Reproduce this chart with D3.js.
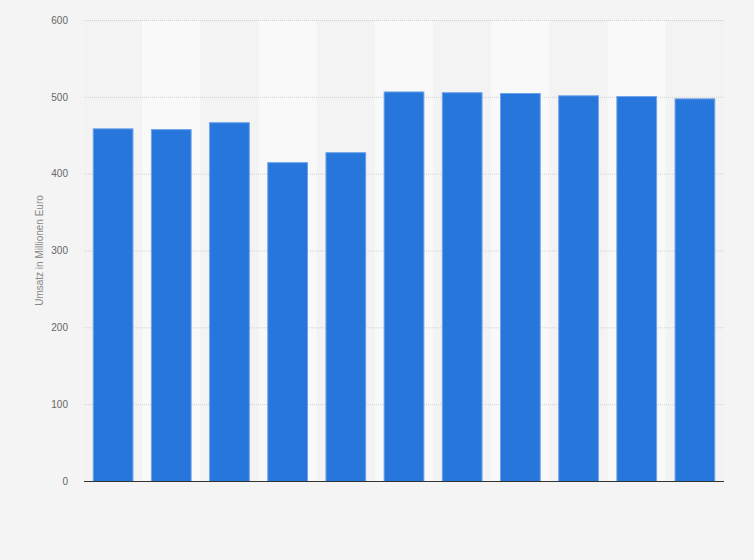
<!DOCTYPE html>
<html>
<head>
<meta charset="utf-8">
<script src="https://cdn.jsdelivr.net/npm/d3@7"></script>
<style>
  body { margin: 0; background: #f4f4f4; }
  svg { display: block; font-family: "Liberation Sans", Arial, sans-serif; }
</style>
</head>
<body>
<svg id="chart"></svg>
<script>
// years are not shown on the reference chart, kept only as band keys
const categories = ['2008', '2009', '2010', '2011', '2012', '2013', '2014', '2015', '2016', '2017', '2018'];
const values = [459, 458, 467, 415, 428, 507, 506, 505, 502, 501, 498];
const yTicks = [0, 100, 200, 300, 400, 500, 600];
const yLabel = 'Umsatz in Millionen Euro';

const width = 754;
const height = 560;
const margin = { top: 20, right: 30, bottom: 79, left: 84 };

const svg = d3.select('#chart')
  .attr('width', width)
  .attr('height', height);

svg.append('rect')
  .attr('width', width)
  .attr('height', height)
  .attr('fill', '#f4f4f4');

const x = d3.scaleBand()
  .domain(categories)
  .range([margin.left, width - margin.right])
  .paddingInner(0.3)
  .paddingOuter(0.15);

const y = d3.scaleLinear()
  .domain([0, 600])
  .range([height - margin.bottom, margin.top]);

// alternating column stripes
svg.append('g')
  .selectAll('rect')
  .data(categories)
  .enter()
  .append('rect')
  .attr('x', d => x(d) - x.step() * x.paddingInner() / 2)
  .attr('y', margin.top)
  .attr('width', x.step())
  .attr('height', y(0) - margin.top)
  .attr('fill', (d, i) => i % 2 ? '#f9f9f9' : '#f3f3f3');

// grid lines
svg.append('g')
  .selectAll('line')
  .data(yTicks.filter(t => t > 0))
  .enter()
  .append('line')
  .attr('x1', margin.left)
  .attr('x2', width - margin.right)
  .attr('y1', d => y(d) + 0.5)
  .attr('y2', d => y(d) + 0.5)
  .attr('stroke', '#d0d0d0')
  .attr('stroke-dasharray', '1,1');

// y axis labels
const yAxis = d3.axisLeft(y)
  .tickValues(yTicks)
  .tickSize(0)
  .tickPadding(16);

svg.append('g')
  .attr('transform', 'translate(' + margin.left + ',0)')
  .call(yAxis)
  .call(g => g.select('.domain').remove())
  .call(g => g.selectAll('text')
    .attr('fill', '#666')
    .style('font-size', '10px'));

svg.append('text')
  .attr('transform', 'translate(43,' + (y(300)) + ') rotate(-90)')
  .attr('text-anchor', 'middle')
  .attr('fill', '#888')
  .style('font-size', '10px')
  .text(yLabel);

// bars
svg.append('g')
  .selectAll('rect')
  .data(values)
  .enter()
  .append('rect')
  .attr('x', (d, i) => x(categories[i]) + 0.5)
  .attr('y', d => y(d) + 0.5)
  .attr('width', x.bandwidth() - 1)
  .attr('height', d => y(0) - y(d))
  .attr('fill', '#2776db')
  .attr('stroke', '#6ea3ea')
  .attr('stroke-width', 1);

// x axis baseline
svg.append('line')
  .attr('x1', margin.left)
  .attr('x2', width - margin.right)
  .attr('y1', y(0) + 0.5)
  .attr('y2', y(0) + 0.5)
  .attr('stroke', '#333')
  .attr('stroke-width', 1.2);
</script>
</body>
</html>
